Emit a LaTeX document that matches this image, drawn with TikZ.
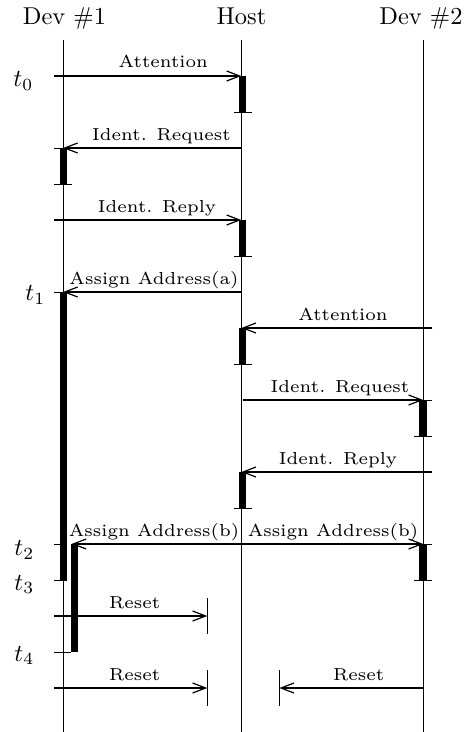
\documentclass[tikz,border=0pt]{standalone}
\usetikzlibrary{arrows.meta}
\begin{document}
\begin{tikzpicture}[x=1pt,y=-1pt,
  life/.style={line width=0.9pt},
  msg/.style={line width=1.2pt,-{Straight Barb[length=13pt,width=10pt,line width=1.2pt]}},
  stopper/.style={line width=0.9pt},
  tickline/.style={line width=0.9pt},
  bar/.style={fill=black},
  head/.style={scale=2.44,inner sep=0pt,anchor=base},
  lab/.style={scale=2.9,inner sep=0pt,anchor=base,font=\fontsize{6}{7}\selectfont},
  tl/.style={scale=2.44,inner sep=0pt,anchor=base west}]
\useasboundingbox (0,0) rectangle (465,732);
\def\xa{63}\def\xh{241.3}\def\xb{423.3}
% headers
\node[head] (h1) at (64.5,24.5) {Dev \#1};
\node[head] (hh) at (241.5,24.5) {Host};
\node[head] (h2) at (421,24.5) {Dev \#2};
% lifelines
\coordinate (a0) at (\xa,40); \coordinate (a1) at (\xa,732);
\coordinate (b0) at (\xh,40); \coordinate (b1) at (\xh,732);
\coordinate (c0) at (\xb,40); \coordinate (c1) at (\xb,732);
\draw[life] (a0) -- (a1);
\draw[life] (b0) -- (b1);
\draw[life] (c0) -- (c1);
% time labels
\node[tl] (t0) at (13,86.5) {$t_0$};
\node[tl] (t1) at (25,300.5) {$t_1$};
\node[tl] (t2) at (14,555.5) {$t_2$};
\node[tl] (t3) at (14,590) {$t_3$};
\node[tl] (t4) at (14,661) {$t_4$};
% activation bars
\fill[bar] (\xh-2.5,76) rectangle (\xh+5,112);
\fill[bar] (\xa-3,148) rectangle (\xa+4,184);
\fill[bar] (\xh-2.5,220) rectangle (\xh+5,256);
\fill[bar] (\xa-3,292) rectangle (\xa+4,580);
\fill[bar] (\xh-2.5,328) rectangle (\xh+5,364);
\fill[bar] (\xb-4,400) rectangle (\xb+3.5,436);
\fill[bar] (\xh-2.5,472) rectangle (\xh+5,508);
\fill[bar] (71,544) rectangle (78,652);
\fill[bar] (\xb-4,544) rectangle (\xb+3.5,580);
% bottom ticks
\foreach \y in {112,256,364,508}{\draw[tickline] (\xh-7,\y) -- (\xh+11,\y);}
\draw[tickline] (\xa-9,184) -- (\xa+9,184);
\draw[tickline] (\xa-9,580) -- (\xa+4,580);
\draw[tickline] (\xa-9,652) -- (71,652);
\draw[tickline] (\xb-9,436) -- (\xb+9,436);
\draw[tickline] (\xb-9,580) -- (\xb+9,580);
% start ticks
\foreach \y in {148,544}{\draw[tickline] (\xa-9,\y) -- (\xa,\y);}
\foreach \y in {400,544}{\draw[tickline] (\xb,\y) -- (\xb+9,\y);}
% messages
\coordinate (m0s) at (\xa-9,76); \coordinate (m0e) at (\xh,76);
\draw[msg] (m0s) -- (m0e);
\node[lab] (l0) at (163.3,67.3) {Attention};
\coordinate (m1s) at (\xh,148); \coordinate (m1e) at (\xa,148);
\draw[msg] (m1s) -- (m1e);
\node[lab] (l1) at (161.5,140.5) {Ident. Request};
\coordinate (m2s) at (\xa-9,220); \coordinate (m2e) at (\xh,220);
\draw[msg] (m2s) -- (m2e);
\node[lab] (l2) at (157,212.5) {Ident. Reply};
\coordinate (m3s) at (\xh,292); \coordinate (m3e) at (\xa,292);
\draw[tickline] (\xa-9,292) -- (\xa,292);
\draw[msg] (m3s) -- (m3e);
\node[lab] (l3) at (154,284.5) {Assign Address(a)};
\coordinate (m4s) at (\xb+9,328); \coordinate (m4e) at (\xh,328);
\draw[msg] (m4s) -- (m4e);
\node[lab] (l4) at (343,320.5) {Attention};
\coordinate (m5s) at (\xh+2,400); \coordinate (m5e) at (\xb,400);
\draw[msg] (m5s) -- (m5e);
\node[lab] (l5) at (340,392.5) {Ident. Request};
\coordinate (m6s) at (\xb+9,472); \coordinate (m6e) at (\xh,472);
\draw[msg] (m6s) -- (m6e);
\node[lab] (l6) at (338,464.5) {Ident. Reply};
\coordinate (m7s) at (\xh,544); \coordinate (m7e) at (71.5,544);
\coordinate (m8e) at (\xb,544);
\draw[msg] (m7s) -- (m7e);
\draw[msg] (m7s) -- (m8e);
\node[lab] (l7) at (154,536.5) {Assign Address(b)};
\node[lab] (l8) at (333,536.5) {Assign Address(b)};
% resets
\coordinate (r1) at (207.3,616); \coordinate (r2) at (207.3,688); \coordinate (r3) at (279.3,688);
\draw[stopper] ([yshift=-18pt]r1) -- ([yshift=18pt]r1);
\draw[stopper] ([yshift=-18pt]r2) -- ([yshift=18pt]r2);
\draw[stopper] ([yshift=-18pt]r3) -- ([yshift=18pt]r3);
\coordinate (m9s) at (\xa-9,616);
\draw[msg] (m9s) -- (r1);
\node[lab] (l9) at (134.7,608) {Reset};
\coordinate (m10s) at (\xa-9,688);
\draw[msg] (m10s) -- (r2);
\node[lab] (l10) at (134.7,680) {Reset};
\coordinate (m11s) at (\xb,688);
\draw[msg] (m11s) -- (r3);
\node[lab] (l11) at (358.7,680) {Reset};
\end{tikzpicture}
\end{document}
